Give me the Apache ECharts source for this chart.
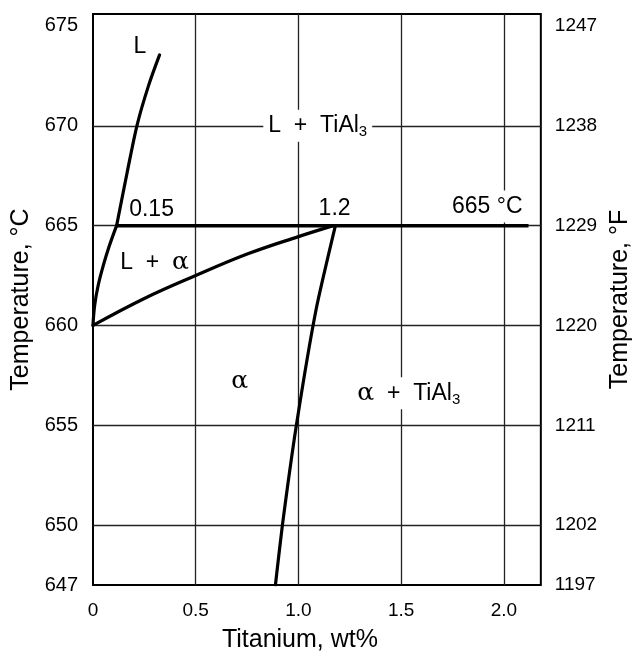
<!DOCTYPE html>
<html>
<head>
<meta charset="utf-8">
<script src="https://cdn.jsdelivr.net/npm/echarts@6/dist/echarts.min.js"></script>
<style>html,body{margin:0;padding:0;background:#fff}#c{width:641px;height:659px}</style>
</head>
<body>
<div id="c"></div>
<script>
// ---- data ----
var xTicks = [0, 0.5, 1.0, 1.5, 2.0];
var xTickLabels = ['0', '0.5', '1.0', '1.5', '2.0'];
var yTicks = [647, 650, 655, 660, 665, 670, 675];
var yTickLabels = ['647', '650', '655', '660', '665', '670', '675'];
var fTickLabels = ['1197', '1202', '1211', '1220', '1229', '1238', '1247'];
var gridX = [0.5, 1.0, 1.5, 2.0];
var gridY = [650, 655, 660, 665, 670];
// liquidus below the peritectic (L / L+alpha)
var liquidusLow = [[0, 660], [0.008, 661], [0.025, 662], [0.05, 663], [0.08, 664], [0.115, 665]];
// liquidus above the peritectic (L / L+TiAl3)
var liquidusHigh = [[0.115, 665], [0.165, 667.6], [0.215, 670.05], [0.27, 672.0], [0.324, 673.55]];
// solidus (L+alpha / alpha)
var solidus = [[0, 660], [0.25, 661.35], [0.5, 662.5], [0.757, 663.6], [1.0, 664.45], [1.17, 665]];
// solvus (alpha / alpha+TiAl3)
var solvus = [[1.18, 665], [1.086, 660.8], [0.99, 655], [0.922, 650], [0.888, 647]];
// peritectic isotherm
var peritectic = [[0.115, 665], [2.12, 665]];
// annotations: [x, temperature, text]
var annotations = [
  [0.228, 673.98, 'L'],
  [1.094, 670.0, 'L+TiAl3'],
  [0.285, 665.79, '0.15'],
  [1.176, 665.84, '1.2'],
  [1.919, 665.96, '665 °C'],
  [0.30, 663.16, 'L+a'],
  [0.714, 657.2, 'a'],
  [1.537, 656.6, 'a+TiAl3']
];
var xMin = 0, xMax = 2.18, yMin = 647, yMax = 675.6;

// ---- chart ----
var FONT = '"Liberation Sans", Arial, Helvetica, sans-serif';
var INK = '#000';
var chart = echarts.init(document.getElementById('c'), null, {renderer: 'canvas'});

var rich = {
  t: {fontSize: 23, fontFamily: FONT, color: INK, lineHeight: 28, verticalAlign: 'middle', textBorderWidth: 0},
  g: {fontSize: 25, fontFamily: '"DejaVu Serif", serif', color: INK, lineHeight: 28, verticalAlign: 'middle', textBorderWidth: 0},
  s: {fontSize: 15, fontFamily: FONT, color: INK, lineHeight: 12, verticalAlign: 'bottom', textBorderWidth: 0}
};
function annText(t) {
  switch (t) {
    case 'L+TiAl3': return '{t|L  +  TiAl}{s|3}';
    case 'a+TiAl3': return '{g|α}{t|  +  TiAl}{s|3}';
    case 'L+a': return '{t|L  +  }{g|α}';
    case 'a': return '{g|α}';
    default: return '{t|' + t + '}';
  }
}
var annData = annotations.map(function (a) {
  var bg = (a[2] === 'L+TiAl3' || a[2] === 'a+TiAl3' || a[2] === '665 °C');
  return {
    value: [a[0], a[1]],
    label: {
      formatter: annText(a[2]),
      backgroundColor: bg ? '#fff' : 'transparent',
      padding: bg ? [2, 5, 2, 5] : 0
    }
  };
});

function curve(data, w, sm) {
  return {
    type: 'line', data: data, smooth: sm, symbol: 'none', silent: true, z: 5,
    lineStyle: {color: '#000', width: w, cap: 'round', join: 'round'}
  };
}

chart.setOption({
  animation: false,
  backgroundColor: '#fff',
  grid: {left: 93, right: 95, top: 14, bottom: 74, show: true, borderColor: '#000', borderWidth: 2, backgroundColor: 'transparent'},
  xAxis: {
    type: 'value', min: xMin, max: xMax,
    name: 'Titanium, wt%', nameLocation: 'middle', nameGap: 43,
    nameTextStyle: {fontSize: 25, fontFamily: FONT, color: INK, padding: [0, 34, 0, 0]},
    axisLine: {show: false}, axisTick: {show: false}, splitLine: {show: false},
    axisLabel: {
      customValues: xTicks, margin: 16, fontSize: 19, fontFamily: FONT, color: INK,
      formatter: function (v) { var i = xTicks.indexOf(v); return i >= 0 ? xTickLabels[i] : ''; }
    }
  },
  yAxis: [{
    type: 'value', min: yMin, max: yMax, position: 'left',
    name: 'Temperature, °C', nameLocation: 'middle', nameGap: 56, nameRotate: 90,
    nameTextStyle: {fontSize: 25, fontFamily: FONT, color: INK},
    axisLine: {show: false}, axisTick: {show: false}, splitLine: {show: false},
    axisLabel: {
      customValues: yTicks, margin: 15, fontSize: 20, fontFamily: FONT, color: INK,
      formatter: function (v) { var i = yTicks.indexOf(v); return i >= 0 ? yTickLabels[i] : ''; }
    }
  }, {
    type: 'value', min: yMin, max: yMax, position: 'right',
    name: 'Temperature, °F', nameLocation: 'middle', nameGap: 66, nameRotate: 90,
    nameTextStyle: {fontSize: 25, fontFamily: FONT, color: INK},
    axisLine: {show: false}, axisTick: {show: false}, splitLine: {show: false},
    axisLabel: {
      customValues: yTicks, margin: 14, fontSize: 19, fontFamily: FONT, color: INK,
      formatter: function (v) { var i = yTicks.indexOf(v); return i >= 0 ? fTickLabels[i] : ''; }
    }
  }],
  series: [
    {
      type: 'line', data: [], silent: true, z: 1,
      markLine: {
        silent: true, symbol: 'none', animation: false,
        label: {show: false},
        lineStyle: {color: '#222', width: 1.3, type: 'solid'},
        data: gridX.map(function (v) { return {xAxis: v}; }).concat(gridY.map(function (v) { return {yAxis: v}; }))
      }
    },
    curve(liquidusLow, 3.2, 0.4),
    curve(liquidusHigh, 3.2, 0.3),
    curve(solidus, 3.2, 0.4),
    curve(solvus, 3.2, 0.2),
    {type: 'line', data: peritectic, symbol: 'none', silent: true, z: 5, lineStyle: {color: '#000', width: 3.5}},
    {
      type: 'scatter', data: annData, symbolSize: 1, silent: true, z: 10,
      itemStyle: {color: 'rgba(0,0,0,0)'},
      label: {show: true, position: 'inside', rich: rich, color: INK, opacity: 1, textBorderWidth: 0}
    }
  ]
});
</script>
</body>
</html>
